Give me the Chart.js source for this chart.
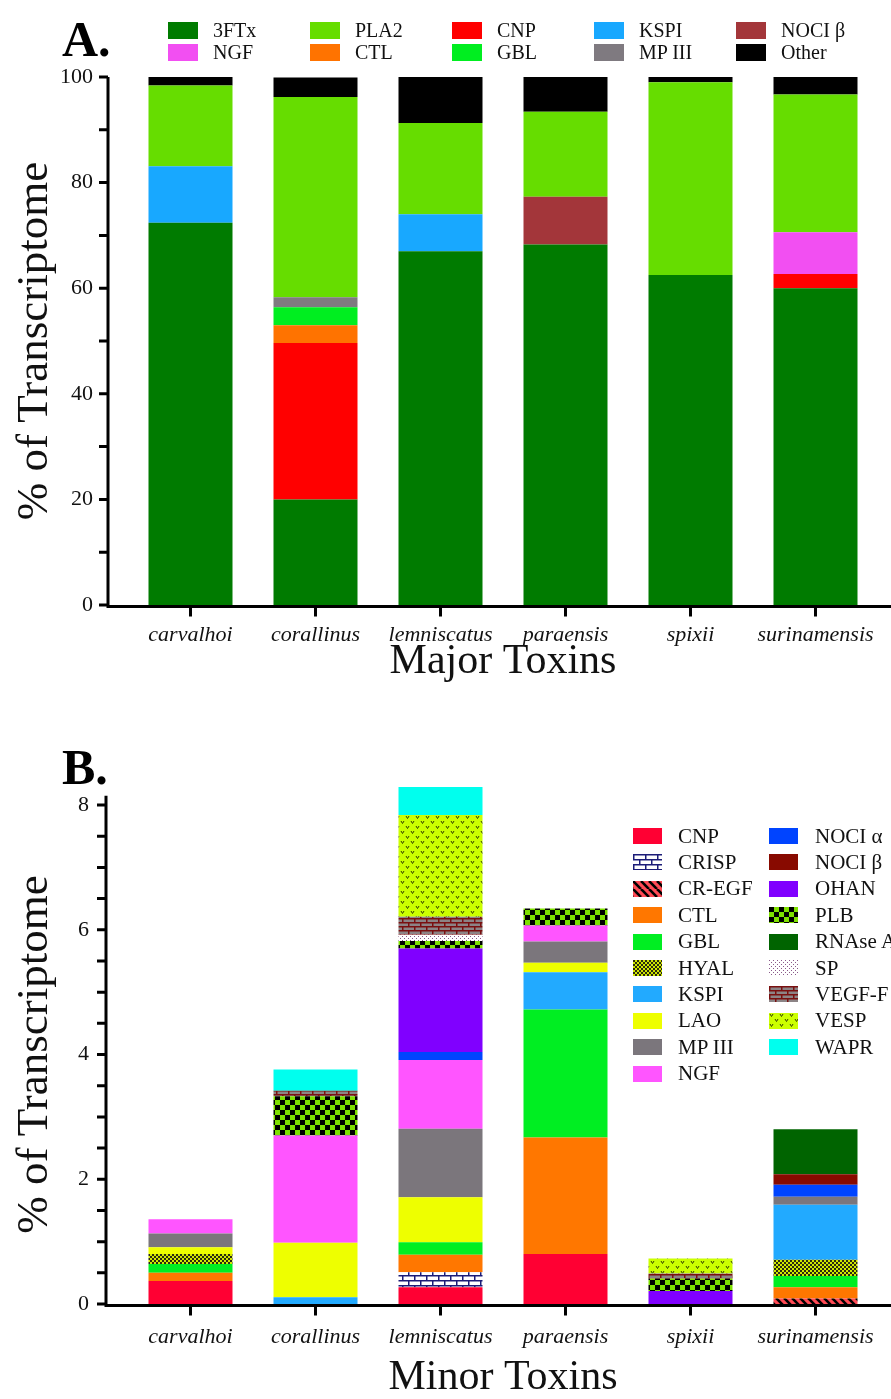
<!DOCTYPE html>
<html>
<head>
<meta charset="utf-8">
<script src="https://cdn.jsdelivr.net/npm/chart.js@4.4.1/dist/chart.umd.min.js"></script>
<style>
  body { margin: 0; background: #fff; }
  #wrap { position: relative; width: 891px; height: 1399px; font-family: "Liberation Serif", serif; }
  canvas { position: absolute; left: 0; }
  .panel { position: absolute; left: 62px; font-size: 50px; font-weight: bold; line-height: 1; }
  .item { position: absolute; height: 24px; display: flex; align-items: center; white-space: nowrap; color: #111; }
  .box { display: inline-block; }
</style>
</head>
<body>
<div id="wrap">
  <canvas id="majorChart" width="891" height="690" style="top:0;width:891px;height:690px"></canvas>
  <canvas id="minorChart" width="891" height="709" style="top:690px;width:891px;height:709px"></canvas>
  <div class="panel" style="top:14px">A.</div>
  <div class="panel" style="top:742px">B.</div>
  <div id="legendA"></div>
  <div id="legendB"></div>
</div>
<script>
const species = ["carvalhoi", "corallinus", "lemniscatus", "paraensis", "spixii", "surinamensis"];

// A. major toxins, % of transcriptome
const major3FTx = [72.4, 20.0, 67.0, 68.3, 62.5, 60.0];
const majorCNP = [0, 29.6, 0, 0, 0, 2.7];
const majorCTL = [0, 3.4, 0, 0, 0, 0];
const majorGBL = [0, 3.4, 0, 0, 0, 0];
const majorMP3 = [0, 1.9, 0, 0, 0, 0];
const majorKSPI = [10.7, 0, 7.0, 0, 0, 0];
const majorNOCIb = [0, 0, 0, 9.0, 0, 0];
const majorNGF = [0, 0, 0, 0, 0, 7.9];
const majorPLA2 = [15.3, 37.9, 17.3, 16.1, 36.5, 26.1];
const majorOther = [1.6, 3.7, 8.7, 6.6, 1.0, 3.3];
const majorTicks = [0, 20, 40, 60, 80, 100];

// B. minor toxins, % of transcriptome
const minorCNP = [0.37, 0, 0.27, 0.80, 0, 0];
const minorCRISP = [0, 0, 0.24, 0, 0, 0];
const minorCREGF = [0, 0, 0, 0, 0, 0.09];
const minorCTL = [0.13, 0, 0.28, 1.87, 0, 0.18];
const minorGBL = [0.14, 0, 0.20, 2.05, 0, 0.18];
const minorHYAL = [0.16, 0, 0, 0, 0, 0.26];
const minorKSPI = [0, 0.11, 0, 0.60, 0, 0.88];
const minorLAO = [0.11, 0.87, 0.72, 0.15, 0, 0];
const minorMP3 = [0.22, 0, 1.10, 0.34, 0, 0.13];
const minorNGF = [0.23, 1.72, 1.10, 0.26, 0, 0];
const minorNOCIa = [0, 0, 0.13, 0, 0, 0.19];
const minorNOCIb = [0, 0, 0, 0, 0, 0.17];
const minorOHAN = [0, 0, 1.66, 0, 0.21, 0];
const minorPLB = [0, 0.63, 0.12, 0.27, 0.20, 0];
const minorRNAse = [0, 0, 0, 0, 0, 0.72];
const minorSP = [0, 0, 0.10, 0, 0, 0];
const minorVEGF = [0, 0.09, 0.29, 0, 0.08, 0];
const minorVESP = [0, 0, 1.63, 0, 0.24, 0];
const minorWAPR = [0, 0.34, 0.45, 0, 0, 0];
const minorTicks = [0, 2, 4, 6, 8];

// stacking order bottom -> top
const majorSeries = [
  ["3FTx", major3FTx], ["CNP", majorCNP], ["CTL", majorCTL], ["GBL", majorGBL],
  ["MP III", majorMP3], ["KSPI", majorKSPI], ["NOCI β", majorNOCIb], ["NGF", majorNGF],
  ["PLA2", majorPLA2], ["Other", majorOther]
];
const majorLegendOrder = ["3FTx", "PLA2", "CNP", "KSPI", "NOCI β", "NGF", "CTL", "GBL", "MP III", "Other"];

const minorSeries = [
  ["CNP", minorCNP], ["CRISP", minorCRISP], ["CR-EGF", minorCREGF], ["CTL", minorCTL],
  ["GBL", minorGBL], ["HYAL", minorHYAL], ["KSPI", minorKSPI], ["LAO", minorLAO],
  ["MP III", minorMP3], ["NGF", minorNGF], ["NOCI α", minorNOCIa], ["NOCI β", minorNOCIb],
  ["OHAN", minorOHAN], ["PLB", minorPLB], ["RNAse A", minorRNAse], ["SP", minorSP],
  ["VEGF-F", minorVEGF], ["VESP", minorVESP], ["WAPR", minorWAPR]
];

const majorColors = {
  "3FTx": "#007b00", "PLA2": "#66dd00", "CNP": "#ff0000", "KSPI": "#18a8ff", "NOCI β": "#a3363a",
  "NGF": "#f24ff2", "CTL": "#ff7300", "GBL": "#00ee20", "MP III": "#7f7a80", "Other": "#000000"
};

// little tiles for the hatched fills
function tile(w, h, draw) {
  const c = document.createElement("canvas");
  c.width = w; c.height = h;
  draw(c.getContext("2d"), w, h);
  return c;
}
const tiles = {
  "CRISP": tile(12, 10, g => {
    g.fillStyle = "#fff"; g.fillRect(0, 0, 12, 10);
    g.fillStyle = "#1c1c78";
    g.fillRect(0, 0, 12, 1.5); g.fillRect(0, 5, 12, 1.5);
    g.fillRect(0, 0, 1.5, 5); g.fillRect(6, 5, 1.5, 5);
  }),
  "CR-EGF": tile(8, 8, g => {
    g.fillStyle = "#ff4a55"; g.fillRect(0, 0, 8, 8);
    g.strokeStyle = "#000"; g.lineWidth = 2.6;
    [-8, 0, 8].forEach(k => { g.beginPath(); g.moveTo(k, 0); g.lineTo(k + 8, 8); g.stroke(); });
  }),
  "HYAL": tile(4, 4, g => {
    g.fillStyle = "#cfe800"; g.fillRect(0, 0, 4, 4);
    g.fillStyle = "#2a2a10"; g.fillRect(0, 0, 2, 2); g.fillRect(2, 2, 2, 2);
  }),
  "PLB": tile(10, 10, g => {
    g.fillStyle = "#7ee000"; g.fillRect(0, 0, 10, 10);
    g.fillStyle = "#000"; g.fillRect(0, 0, 5, 5); g.fillRect(5, 5, 5, 5);
  }),
  "SP": tile(4, 4, g => {
    g.fillStyle = "#fff"; g.fillRect(0, 0, 4, 4);
    g.fillStyle = "#8a5a8a"; g.fillRect(0, 0, 1, 1); g.fillRect(2, 2, 1, 1);
  }),
  "VEGF-F": tile(12, 8, g => {
    g.fillStyle = "#8c8486"; g.fillRect(0, 0, 12, 8);
    g.fillStyle = "#7a1010";
    g.fillRect(0, 0, 12, 1.5); g.fillRect(0, 4, 12, 1.5);
    g.fillRect(0, 0, 1.5, 4); g.fillRect(6, 4, 1.5, 4);
  }),
  "VESP": tile(10, 10, g => {
    g.fillStyle = "#ccff00"; g.fillRect(0, 0, 10, 10);
    g.strokeStyle = "#334400"; g.lineWidth = 1;
    [[2.5, 2.5], [7.5, 7.5]].forEach(([x, y]) => {
      g.beginPath(); g.moveTo(x - 1.5, y - 1.5); g.lineTo(x, y + 1); g.lineTo(x + 1.5, y - 1.5); g.stroke();
    });
  })
};
const minorColors = {
  "CNP": "#ff0033", "CTL": "#ff7700", "GBL": "#00ee22", "KSPI": "#22aaff", "LAO": "#eeff00",
  "MP III": "#7b767c", "NGF": "#ff55ff", "NOCI α": "#0044ff", "NOCI β": "#880a00",
  "OHAN": "#8000ff", "RNAse A": "#006400", "WAPR": "#00ffee"
};
const patternCtx = document.createElement("canvas").getContext("2d");
function minorFill(name) {
  if (tiles[name]) return patternCtx.createPattern(tiles[name], "repeat");
  return minorColors[name];
}
function minorCss(name) {
  if (tiles[name]) return "url(" + tiles[name].toDataURL() + ")";
  return minorColors[name];
}

// PRISM-style axes: y axis pulled off to the left of the first bar
const offsetAxes = {
  id: "offsetAxes",
  afterDraw(chart, args, opts) {
    const { ctx, chartArea, scales: { x, y } } = chart;
    const ax = chartArea.left - opts.gap;
    const base = chartArea.bottom + 1.5;
    ctx.save();
    ctx.strokeStyle = "#000";
    ctx.lineWidth = 3;
    ctx.beginPath();
    ctx.moveTo(ax, y.getPixelForValue(opts.top));
    ctx.lineTo(ax, base + 1.5);
    ctx.moveTo(ax - 1.5, base);
    ctx.lineTo(chart.width, base);
    for (let v = 0; v <= y.max + 1e-9; v += opts.minor) {
      const py = y.getPixelForValue(v);
      ctx.moveTo(ax, py);
      ctx.lineTo(ax - 9, py);
    }
    x.ticks.forEach((t, i) => {
      const px = x.getPixelForTick(i);
      ctx.moveTo(px, base);
      ctx.lineTo(px, base + 10);
    });
    ctx.stroke();
    ctx.restore();
  }
};

const serif = "'Liberation Serif', serif";

function makeOptions(cfg) {
  return {
    responsive: false,
    animation: false,
    layout: { padding: { top: cfg.padTop, right: 13, left: 0, bottom: 0 } },
    plugins: {
      legend: { display: false },
      tooltip: { enabled: false },
      offsetAxes: { gap: cfg.gap, top: cfg.axisTop, minor: cfg.minor }
    },
    scales: {
      x: {
        stacked: true,
        grid: { display: false },
        border: { display: false },
        ticks: { color: "#111", padding: cfg.xPad, font: { family: serif, size: 22, style: "italic" } },
        title: { display: true, text: cfg.xTitle, color: "#111", padding: { top: 0, bottom: cfg.xTitlePad },
          font: { family: serif, size: 42, lineHeight: 1 } },
        afterFit: s => { s.height = cfg.xHeight; }
      },
      y: {
        stacked: true,
        min: 0,
        max: cfg.ticks[cfg.ticks.length - 1],
        grid: { display: false },
        border: { display: false },
        afterBuildTicks: s => { s.ticks = cfg.ticks.map(v => ({ value: v })); },
        ticks: { color: "#111", padding: cfg.yPad, font: { family: serif, size: 22 } },
        title: { display: true, text: "% of Transcriptome", color: "#111", padding: { top: 13, bottom: 0 },
          font: { family: serif, size: 45, lineHeight: 1 } },
        afterFit: s => { s.width = 128; }
      }
    }
  };
}

new Chart(document.getElementById("majorChart"), {
  type: "bar",
  data: {
    labels: species,
    datasets: majorSeries.map(([name, vals]) => ({
      label: name, data: vals, backgroundColor: majorColors[name],
      borderWidth: 0, barPercentage: 0.672, categoryPercentage: 1
    }))
  },
  options: makeOptions({ padTop: 77, gap: 20, axisTop: 100, minor: 10, xPad: 9, xTitle: "Major Toxins",
    xTitlePad: 7, xHeight: 85, yPad: 27, ticks: majorTicks }),
  plugins: [offsetAxes]
});

new Chart(document.getElementById("minorChart"), {
  type: "bar",
  data: {
    labels: species,
    datasets: minorSeries.map(([name, vals]) => ({
      label: name, data: vals, backgroundColor: minorFill(name),
      borderWidth: 0, barPercentage: 0.672, categoryPercentage: 1, clip: false
    }))
  },
  options: makeOptions({ padTop: 115, gap: 22, axisTop: 8.15, minor: 0.5, xPad: 12, xTitle: "Minor Toxins",
    xTitlePad: 0, xHeight: 95, yPad: 31, ticks: minorTicks }),
  plugins: [offsetAxes]
});

// legends as html text
const legendA = document.getElementById("legendA");
majorLegendOrder.forEach((name, i) => {
  const col = i % 5, row = Math.floor(i / 5);
  const el = document.createElement("div");
  el.className = "item";
  el.style.left = (168 + col * 142) + "px";
  el.style.top = (18 + row * 22.5) + "px";
  el.style.fontSize = "20px";
  el.innerHTML = '<span class="box" style="width:30px;height:17px;margin-right:15px;background:' +
    majorColors[name] + '"></span>' + name;
  legendA.appendChild(el);
});

const legendB = document.getElementById("legendB");
minorSeries.forEach(([name], i) => {
  const col = i < 10 ? 0 : 1, row = i < 10 ? i : i - 10;
  const el = document.createElement("div");
  el.className = "item";
  el.style.left = (col ? 769 : 633) + "px";
  el.style.top = (824 + row * 26.4) + "px";
  el.style.fontSize = "21px";
  el.innerHTML = '<span class="box" style="width:29px;height:16px;margin-right:' + (col ? 17 : 16) +
    'px;background:' + minorCss(name) + '"></span>' + name;
  legendB.appendChild(el);
});
</script>
</body>
</html>
